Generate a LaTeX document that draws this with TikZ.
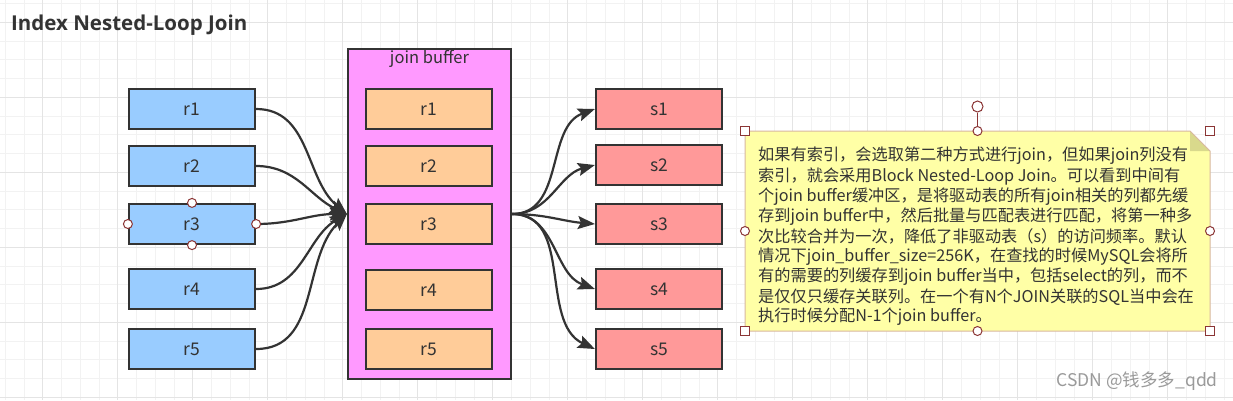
\documentclass[tikz,border=0pt]{standalone}
\usepackage{fontspec}
\setmainfont{Noto Sans CJK SC}
\newfontfamily\titlefont{Open Sans}
\usetikzlibrary{arrows.meta}
\definecolor{gminor}{HTML}{F2F2F2}
\definecolor{gmajor}{HTML}{E4E4E4}
\definecolor{stroke}{HTML}{333333}
\definecolor{rblue}{HTML}{99CCFF}
\definecolor{borange}{HTML}{FFCC99}
\definecolor{bpink}{HTML}{FF99FF}
\definecolor{sred}{HTML}{FF9999}
\definecolor{noteyel}{HTML}{FFFFA6}
\definecolor{notebd}{HTML}{D8B8A0}
\definecolor{notefold}{HTML}{D9D98C}
\definecolor{handle}{HTML}{8B3535}
\definecolor{wm}{HTML}{9A9A9A}
\tikzset{
  rec/.style={draw=stroke, line width=2.2pt, minimum width=126pt, minimum height=40pt, inner sep=0pt, text=stroke, font=\fontsize{17.5}{20}\selectfont},
  rbox/.style={rec, fill=rblue},
  bbox/.style={rec, fill=borange},
  sbox/.style={rec, fill=sred},
  conn/.style={draw=stroke, line width=2.2pt, -{Stealth[length=17pt,width=13pt,inset=3pt]}},
  hcirc/.style={circle, draw=handle, fill=white, line width=1pt, minimum size=9pt, inner sep=0pt},
  hsq/.style={rectangle, draw=handle, fill=white, line width=1pt, minimum size=9pt, inner sep=0pt},
  notetxt/.style={anchor=west, inner sep=0pt, text=stroke, font=\fontsize{16.2}{20}\selectfont},
}
\begin{document}
\begin{tikzpicture}[x=1pt,y=-1pt]
\useasboundingbox (0,0) rectangle (1233,400);
\fill[white] (0,0) rectangle (1233,400);
% grid
\foreach \i in {0,...,66} {\draw[gminor, line width=0.8pt] ({5.2+18.75*\i},0) -- ({5.2+18.75*\i},400);}
\foreach \j in {0,...,21} {\draw[gminor, line width=0.8pt] (0,{3.55+18.75*\j}) -- (1233,{3.55+18.75*\j});}
\foreach \i in {0,...,16} {\draw[gmajor, line width=0.8pt] ({42.7+75*\i},0) -- ({42.7+75*\i},400);}
\foreach \j in {0,...,5} {\draw[gmajor, line width=0.8pt] (0,{22.3+75*\j}) -- (1233,{22.3+75*\j});}

% title
\node[anchor=west, inner sep=0pt, text=stroke, font=\titlefont\bfseries\fontsize{20.5}{24}\selectfont] (title) at (11,25) {Index Nested-Loop Join};

% left r boxes
\node[rbox] (r1) at (192,109) {r1};
\node[rbox] (r2) at (192,166) {r2};
\node[rbox] (r3) at (192,224) {r3};
\node[rbox] (r4) at (192,289) {r4};
\node[rbox] (r5) at (192,349) {r5};

% join buffer
\node[draw=stroke, line width=2.2pt, fill=bpink, minimum width=163pt, minimum height=330pt, inner sep=0pt] (buf) at (429.5,214) {};
\node[inner sep=0pt, text=stroke, font=\fontsize{16.5}{19}\selectfont] (buflbl) at (429.5,59) {join buffer};
\node[bbox] (b1) at (429,109) {r1};
\node[bbox] (b2) at (429,166) {r2};
\node[bbox] (b3) at (429,224) {r3};
\node[bbox] (b4) at (429,290) {r4};
\node[bbox] (b5) at (429,349) {r5};

% s boxes
\node[sbox] (s1) at (659,109) {s1};
\node[sbox] (s2) at (659,165) {s2};
\node[sbox] (s3) at (659,224) {s3};
\node[sbox] (s4) at (659,289) {s4};
\node[sbox] (s5) at (659,349) {s5};

% connectors in
\draw[conn] (r1.east) to[out=0,in=140] (buf.west);
\draw[conn] (r2.east) to[out=0,in=155] (buf.west);
\draw[conn] (r3.east) to[out=0,in=180] (buf.west);
\draw[conn] (r4.east) to[out=0,in=210] (buf.west);
\draw[conn] (r5.east) to[out=0,in=225] (buf.west);
% connectors out
\draw[conn] (buf.east) to[out=0,in=200] (s1.west);
\draw[conn] (buf.east) to[out=0,in=195] (s2.west);
\draw[conn] (buf.east) to[out=0,in=175] (s3.west);
\draw[conn] (buf.east) to[out=0,in=160] (s4.west);
\draw[conn] (buf.east) to[out=0,in=155] (s5.west);

% r3 selection handles
\node[hcirc] (h1) at (r3.west) {};
\node[hcirc] (h2) at (r3.east) {};
\node[hcirc] (h3) at (r3.north) {};
\node[hcirc] (h4) at (r3.south) {};

% note
\coordinate (nA) at (745,131);
\coordinate (nB) at (1190,131);
\coordinate (nC) at (1210,151);
\coordinate (nD) at (1210,331);
\coordinate (nE) at (745,331);
\coordinate (nF) at (1190,151);
\fill[noteyel] (nA) -- (nB) -- (nC) -- (nD) -- (nE) -- cycle;
\fill[notefold] (nB) -- (nF) -- (nC) -- cycle;
\draw[notebd, line width=1pt] (nA) -- (nB) -- (nC) -- (nD) -- (nE) -- cycle;
\node[notetxt] (t1) at (758,156) {如果有索引，会选取第二种方式进行join，但如果join列没有};
\node[notetxt] (t2) at (758,176.1) {索引，就会采用Block Nested-Loop Join。可以看到中间有};
\node[notetxt] (t3) at (758,196.2) {个join buffer缓冲区，是将驱动表的所有join相关的列都先缓};
\node[notetxt] (t4) at (758,216.3) {存到join buffer中，然后批量与匹配表进行匹配，将第一种多};
\node[notetxt] (t5) at (758,236.4) {次比较合并为一次，降低了非驱动表（s）的访问频率。默认};
\node[notetxt] (t6) at (758,256.5) {情况下join\_buffer\_size=256K，在查找的时候MySQL会将所};
\node[notetxt] (t7) at (758,276.6) {有的需要的列缓存到join buffer当中，包括select的列，而不};
\node[notetxt] (t8) at (758,296.7) {是仅仅只缓存关联列。在一个有N个JOIN关联的SQL当中会在};
\node[notetxt] (t9) at (758,316.8) {执行时候分配N-1个join buffer。};

% note handles
\node[hsq] (q1) at (nA) {};
\node[hsq] (q2) at (1210,131) {};
\node[hsq] (q3) at (nD) {};
\node[hsq] (q4) at (nE) {};
\node[hcirc] (c1) at (977.5,131) {};
\node[hcirc] (c2) at (977.5,331) {};
\node[hcirc] (c3) at (745,231) {};
\node[hcirc] (c4) at (1210,231) {};
\node[hcirc, minimum size=11pt] (rot) at (977.5,106.5) {};
\draw[handle, line width=1pt] (rot.south) -- (c1.north);

% watermark
\node[anchor=east, inner sep=0pt, text=wm, font=\fontsize{17.5}{20}\selectfont] (wmk) at (1218,381) {CSDN @钱多多\_qdd};
\end{tikzpicture}
\end{document}
